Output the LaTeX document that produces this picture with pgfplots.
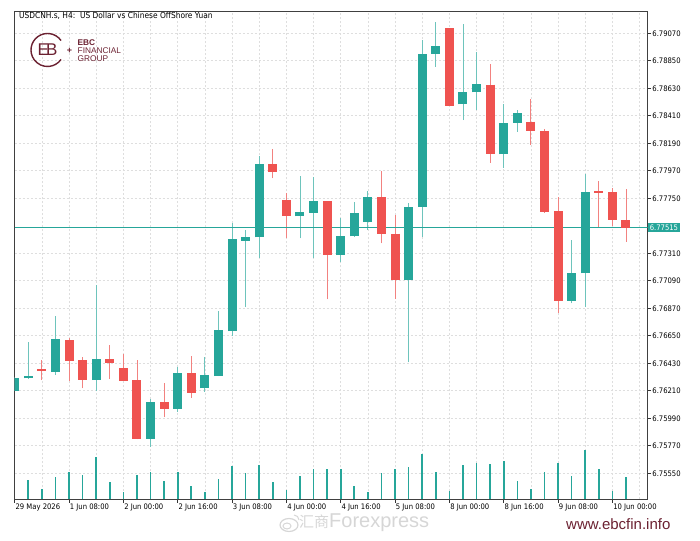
\documentclass[border=0pt]{standalone}
\usepackage{pgfplots}
\pgfplotsset{compat=1.18}
\usepackage{fontspec}
\setmainfont{DejaVu Sans Condensed}
\newfontfamily\lsans{Liberation Sans}
\newfontfamily\cjk{Noto Sans CJK SC}
\definecolor{bull}{RGB}{38,166,154}
\definecolor{bear}{RGB}{239,83,80}
\definecolor{bullw}{RGB}{110,196,188}
\definecolor{bearw}{RGB}{242,130,128}
\definecolor{pline}{RGB}{38,166,154}
\definecolor{ebc}{RGB}{107,33,49}
\definecolor{gridc}{RGB}{222,222,222}
\definecolor{wm}{RGB}{214,214,214}
\newcommand{\tickfont}{\fontsize{7.6bp}{9bp}\selectfont}
\begin{document}
\begin{tikzpicture}
\begin{axis}[
  at={(14.7bp,41.7bp)}, anchor=south west,
  scale only axis, width=633bp, height=488.3bp,
  xmin=0, xmax=46.6, ymin=6.75342, ymax=6.792484,
  axis line style={black!75, line width=0.8bp},
  xtick={0,4,8,12,16,20,24,28,32,36,40,44},
  xticklabels={29 May 2026,1 Jun 08:00,2 Jun 00:00,2 Jun 16:00,3 Jun 08:00,4 Jun 00:00,4 Jun 16:00,5 Jun 08:00,8 Jun 00:00,8 Jun 16:00,9 Jun 08:00,10 Jun 00:00},
  minor xtick={2,6,10,14,18,22,26,30,34,38,42,46},
  ytick={6.7555,6.7577,6.7599,6.7621,6.7643,6.7665,6.7687,6.7709,6.7731,6.7775,6.7797,6.7819,6.7841,6.7863,6.7885,6.7907},
  yticklabels={6.75550,6.75770,6.75990,6.76210,6.76430,6.76650,6.76870,6.77090,6.77310,6.77750,6.77970,6.78190,6.78410,6.78630,6.78850,6.79070},
  xtick pos=bottom, ytick pos=right, yticklabel pos=right,
  tick align=outside,
  major tick length=3.5bp, minor tick length=0pt,
  tick style={black!80, line width=0.6bp},
  grid=both,
  major grid style={gridc, dash pattern=on 2bp off 2bp, line width=0.6bp},
  minor grid style={gridc, dash pattern=on 2bp off 2bp, line width=0.6bp},
  ticklabel style={font=\tickfont},
  xticklabel style={anchor=north west, inner sep=1bp, xshift=-0.3bp},
  yticklabel style={anchor=west, inner sep=1bp},
  scaled y ticks=false,
  unbounded coords=jump,
]
% wicks (low, high) - bullish
\addplot[bullw, line width=0.9bp] coordinates {
(0,6.76205) (0,6.76318) (0,nan)
(1,6.76305) (1,6.76603) (1,nan)
(3,6.76336) (3,6.76811) (3,nan)
(6,6.76211) (6,6.77056) (6,nan)
(10,6.75763) (10,6.76142) (10,nan)
(12,6.76043) (12,6.76403) (12,nan)
(14,6.76203) (14,6.76478) (14,nan)
(15,6.76328) (15,6.76851) (15,nan)
(16,6.76648) (16,6.77550) (16,nan)
(17,6.76883) (17,6.77496) (17,nan)
(18,6.77275) (18,6.78088) (18,nan)
(21,6.77430) (21,6.77931) (21,nan)
(22,6.77270) (22,6.77923) (22,nan)
(24,6.77238) (24,6.77590) (24,nan)
(25,6.77443) (25,6.77723) (25,nan)
(26,6.77496) (26,6.77808) (26,nan)
(29,6.76438) (29,6.77715) (29,nan)
(30,6.77443) (30,6.79016) (30,nan)
(31,6.78803) (31,6.79163) (31,nan)
(33,6.78376) (33,6.79142) (33,nan)
(34,6.78456) (34,6.78918) (34,nan)
(36,6.77995) (36,6.78504) (36,nan)
(37,6.78283) (37,6.78456) (37,nan)
(41,6.76910) (41,6.77416) (41,nan)
(42,6.76883) (42,6.77942) (42,nan)
};
% wicks - bearish
\addplot[bearw, line width=0.9bp] coordinates {
(2,6.76296) (2,6.76456) (2,nan)
(4,6.76291) (4,6.76635) (4,nan)
(5,6.76230) (5,6.76478) (5,nan)
(7,6.76304) (7,6.76579) (7,nan)
(8,6.76291) (8,6.76507) (8,nan)
(9,6.75822) (9,6.76456) (9,nan)
(11,6.75998) (11,6.76275) (11,nan)
(13,6.76155) (13,6.76491) (13,nan)
(19,6.77910) (19,6.78142) (19,nan)
(20,6.77430) (20,6.77790) (20,nan)
(23,6.76942) (23,6.77730) (23,nan)
(27,6.77390) (27,6.77968) (27,nan)
(28,6.76947) (28,6.77616) (28,nan)
(32,6.79110) (32,6.78488) (32,nan)
(35,6.78035) (35,6.78824) (35,nan)
(38,6.78176) (38,6.78544) (38,nan)
(39,6.77635) (39,6.78307) (39,nan)
(40,6.76835) (40,6.77758) (40,nan)
(43,6.77523) (43,6.77891) (43,nan)
(44,6.77531) (44,6.77830) (44,nan)
(45,6.77403) (45,6.77824) (45,nan)
};
% current price line
\addplot[draw=pline, line width=1bp, mark=none, unbounded coords=discard] table {
x y
0 6.77515
46.6 6.77515
};
% bodies (open, close) - bullish
\addplot[bull, line width=9bp] coordinates {
(0,6.76211) (0,6.76315) (0,nan)
(1,6.76310) (1,6.76328) (1,nan)
(3,6.76360) (3,6.76622) (3,nan)
(6,6.76296) (6,6.76464) (6,nan)
(10,6.75827) (10,6.76118) (10,nan)
(12,6.76067) (12,6.76350) (12,nan)
(14,6.76230) (14,6.76334) (14,nan)
(15,6.76328) (15,6.76694) (15,nan)
(16,6.76688) (16,6.77422) (16,nan)
(17,6.77411) (17,6.77440) (17,nan)
(18,6.77438) (18,6.78024) (18,nan)
(21,6.77606) (21,6.77640) (21,nan)
(22,6.77635) (22,6.77726) (22,nan)
(24,6.77296) (24,6.77446) (24,nan)
(25,6.77446) (25,6.77630) (25,nan)
(26,6.77560) (26,6.77758) (26,nan)
(29,6.77099) (29,6.77683) (29,nan)
(30,6.77680) (30,6.78907) (30,nan)
(31,6.78904) (31,6.78968) (31,nan)
(33,6.78502) (33,6.78600) (33,nan)
(34,6.78598) (34,6.78662) (34,nan)
(36,6.78102) (36,6.78355) (36,nan)
(37,6.78355) (37,6.78430) (37,nan)
(41,6.76931) (41,6.77155) (41,nan)
(42,6.77150) (42,6.77803) (42,nan)
};
% bodies - bearish
\addplot[bear, line width=9bp] coordinates {
(2,6.76384) (2,6.76368) (2,nan)
(4,6.76614) (4,6.76448) (4,nan)
(5,6.76454) (5,6.76296) (5,nan)
(7,6.76464) (7,6.76430) (7,nan)
(8,6.76390) (8,6.76291) (8,nan)
(9,6.76294) (9,6.75827) (9,nan)
(11,6.76118) (11,6.76067) (11,nan)
(13,6.76350) (13,6.76195) (13,nan)
(19,6.78024) (19,6.77958) (19,nan)
(20,6.77734) (20,6.77606) (20,nan)
(23,6.77726) (23,6.77296) (23,nan)
(27,6.77758) (27,6.77464) (27,nan)
(28,6.77467) (28,6.77099) (28,nan)
(32,6.79110) (32,6.78488) (32,nan)
(35,6.78660) (35,6.78104) (35,nan)
(38,6.78363) (38,6.78286) (38,nan)
(39,6.78288) (39,6.77643) (39,nan)
(40,6.77648) (40,6.76931) (40,nan)
(43,6.77806) (43,6.77795) (43,nan)
(44,6.77798) (44,6.77576) (44,nan)
(45,6.77576) (45,6.77515) (45,nan)
};
\coordinate (pl) at (axis cs:46.6,6.77515);
\end{axis}
% tick volume
\begin{axis}[
  at={(14.7bp,41.7bp)}, anchor=south west,
  scale only axis, width=633bp, height=488.3bp,
  xmin=0, xmax=46.6, ymin=0, ymax=48830,
  hide axis,
]
\addplot[ycomb, bull, line width=1.6bp, mark=none] coordinates {
(1,1930) (2,1000) (3,2260) (4,2700) (5,2460) (6,4230) (7,1760) (8,760)
(9,2460) (10,2700) (11,1860) (12,2760) (13,1330) (14,730) (15,2030) (16,3300)
(17,2630) (18,3460) (19,1760) (20,930) (21,2360) (22,3030) (23,3030) (24,3030)
(25,1330) (26,730) (27,2630) (28,3030) (29,3230) (30,4560) (31,2700) (32,830)
(33,3460) (34,3630) (35,3530) (36,3800) (37,1830) (38,1000) (39,2700) (40,3630)
(41,2360) (42,4900) (43,3030) (44,830) (45,2200)
};
\end{axis}
% price label
\node[anchor=west, fill=bull, text=white, inner xsep=1.5bp, inner ysep=1.6bp, font=\tickfont] at ([xshift=0.4bp]pl) {6.77515};
% title
\node[anchor=west, inner sep=0pt, font=\fontsize{8.3bp}{9bp}\selectfont] at (19bp,525bp) {USDCNH.s, H4:\ \ US Dollar vs Chinese OffShore Yuan};
% EBC logo
\draw[ebc, line width=1.4bp] (47.5bp,491bp) ++(35:16.5bp) arc[start angle=35, end angle=325, radius=16.5bp];
\node[ebc, inner sep=0pt, font=\lsans\fontsize{17bp}{17bp}\selectfont] at (47.5bp,491bp) {E\kern-3bp B};
\node[ebc, inner sep=0pt, font=\lsans\bfseries\fontsize{9bp}{9bp}\selectfont] at (69.5bp,490.5bp) {+};
\node[ebc, anchor=west, inner sep=0pt, font=\lsans\bfseries\fontsize{8.3bp}{8bp}\selectfont] at (77.5bp,498.7bp) {EBC};
\node[ebc, anchor=west, inner sep=0pt, font=\lsans\fontsize{8.3bp}{8bp}\selectfont] at (77.5bp,490.5bp) {FINANCIAL};
\node[ebc, anchor=west, inner sep=0pt, font=\lsans\fontsize{8.3bp}{8bp}\selectfont] at (77.5bp,482.3bp) {GROUP};
% watermark
\draw[wm, line width=1.2bp] (289bp,16bp) ellipse[x radius=9bp, y radius=6.5bp];
\draw[wm, line width=1bp] (287bp,15bp) ellipse[x radius=4bp, y radius=3bp];
\draw[wm, line width=1bp] (294bp,26bp) arc[start angle=90, end angle=0, radius=5bp];
\node[wm, anchor=west, inner sep=0pt] at (299bp,18.5bp) {{\cjk\fontsize{15bp}{15bp}\selectfont 汇商}{\lsans\fontsize{20bp}{20bp}\selectfont Forexpress}};
% site
\node[ebc, anchor=west, inner sep=0pt, font=\lsans\fontsize{15bp}{15bp}\selectfont] at (566bp,17bp) {www.ebcfin.info};
\pgfresetboundingbox
\useasboundingbox (0,0) rectangle (700bp,541bp);
\end{tikzpicture}
\end{document}
